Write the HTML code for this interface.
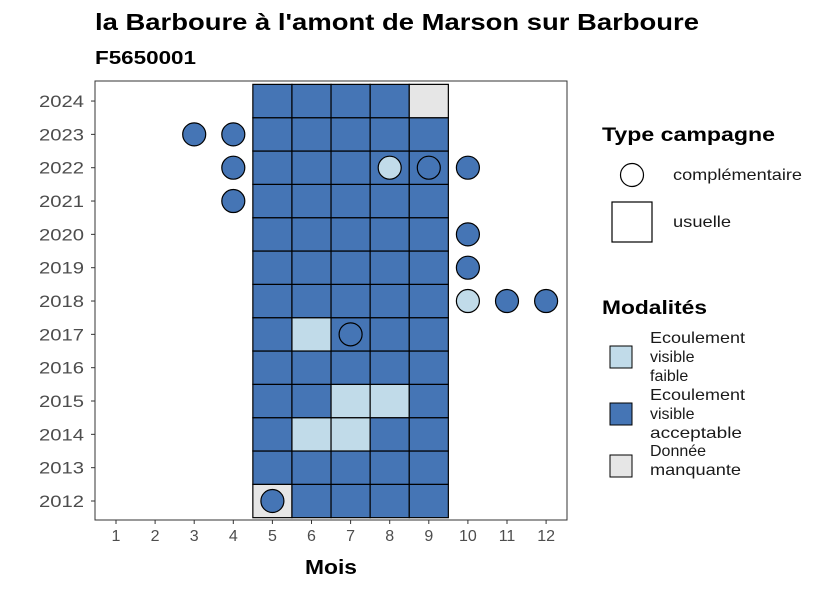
<!DOCTYPE html>
<html><head><meta charset="utf-8"><style>
body{margin:0;background:#fff;font-family:"Liberation Sans",sans-serif}
</style></head><body>
<svg id="chart" width="826" height="590" xmlns="http://www.w3.org/2000/svg" font-family="Liberation Sans, sans-serif">
<text x="95" y="30" font-size="23" font-weight="bold" fill="#000" textLength="604" lengthAdjust="spacingAndGlyphs">la Barboure à l'amont de Marson sur Barboure</text>
<text x="95" y="64" font-size="18" font-weight="bold" fill="#000" textLength="101" lengthAdjust="spacingAndGlyphs">F5650001</text>
<g id="plot"></g>
<g id="axes"></g>
<text x="305" y="574" font-size="20" font-weight="bold" textLength="52" lengthAdjust="spacingAndGlyphs">Mois</text>
<g>
<text x="602" y="141" font-size="19" font-weight="bold" textLength="173" lengthAdjust="spacingAndGlyphs">Type campagne</text>
<circle cx="632" cy="175" r="11.5" fill="#fff" stroke="#000" stroke-width="1.2"/>
<text x="673" y="180" font-size="16" fill="#1a1a1a" textLength="129" lengthAdjust="spacingAndGlyphs">complémentaire</text>
<rect x="612" y="202" width="40" height="40" fill="#fff" stroke="#000" stroke-width="1.2"/>
<text x="673" y="227" font-size="16" fill="#1a1a1a" textLength="58" lengthAdjust="spacingAndGlyphs">usuelle</text>
</g>
<g font-size="16" fill="#1a1a1a">
<text x="602" y="314" font-size="19" font-weight="bold" fill="#000" textLength="105" lengthAdjust="spacingAndGlyphs">Modalités</text>
<rect x="610" y="346" width="22" height="22" fill="#c1dbe9" stroke="#000"/>
<text x="650" y="343" textLength="95" lengthAdjust="spacingAndGlyphs">Ecoulement</text><text x="650" y="362">visible</text><text x="650" y="381">faible</text>
<rect x="610" y="403" width="22" height="22" fill="#4575b5" stroke="#000"/>
<text x="650" y="400" textLength="95" lengthAdjust="spacingAndGlyphs">Ecoulement</text><text x="650" y="419">visible</text><text x="650" y="438" textLength="92" lengthAdjust="spacingAndGlyphs">acceptable</text>
<rect x="610" y="455" width="22" height="22" fill="#e6e6e6" stroke="#000"/>
<text x="650" y="456">Donnée</text><text x="650" y="475" textLength="91" lengthAdjust="spacingAndGlyphs">manquante</text>
</g>
</svg>
<script>
const months=[1,2,3,4,5,6,7,8,9,10,11,12];
const years=[2012,2013,2014,2015,2016,2017,2018,2019,2020,2021,2022,2023,2024];
const tileMonths=[5,6,7,8,9];
const tileGrid={
2024:[1,1,1,1,2],2023:[1,1,1,1,1],2022:[1,1,1,1,1],2021:[1,1,1,1,1],2020:[1,1,1,1,1],
2019:[1,1,1,1,1],2018:[1,1,1,1,1],2017:[1,0,1,1,1],2016:[1,1,1,1,1],2015:[1,1,0,0,1],
2014:[1,0,0,1,1],2013:[1,1,1,1,1],2012:[2,1,1,1,1]};
const ptMonths=[3,4,4,8,9,10,4,10,10,10,11,12,7,5];
const ptYears=[2023,2023,2022,2022,2022,2022,2021,2020,2019,2018,2018,2018,2017,2012];
const ptMods=[1,1,1,0,1,1,1,1,1,0,1,1,1,1];
const colors=['#c1dbe9','#4575b5','#e6e6e6'];
const X0=95,X1=567,Y0=81,Y1=520;
const xs=m=>116+(m-1)*39.1;
const ys=y=>501-(y-2012)*33.33;
const ns='http://www.w3.org/2000/svg';
function mk(t,a,p){const e=document.createElementNS(ns,t);for(const k in a)e.setAttribute(k,a[k]);p.appendChild(e);return e;}
const plot=document.getElementById('plot'),axes=document.getElementById('axes');
const bg=mk('rect',{x:X0,y:Y0,width:X1-X0,height:Y1-Y0,fill:'#fff',stroke:'#333','stroke-width':1},plot);


for(const y of years){tileMonths.forEach((m,i)=>{const v=tileGrid[y][i];
const r=mk('rect',{x:xs(m)-19.55,y:ys(y)-16.67,width:39.1,height:33.33,fill:colors[v],stroke:'#000','stroke-width':1.2},plot);

});}
ptMonths.forEach((m,i)=>{const c=mk('circle',{cx:xs(m),cy:ys(ptYears[i]),r:11.5,fill:colors[ptMods[i]],stroke:'#000','stroke-width':1.2},plot);

});
mk('rect',{x:X0,y:Y0,width:X1-X0,height:Y1-Y0,fill:'none',stroke:'#333','stroke-width':1},plot);
for(const m of months){mk('line',{x1:xs(m),x2:xs(m),y1:Y1,y2:Y1+4,stroke:'#333'},axes);
const t=mk('text',{x:xs(m),y:Y1+21,'font-size':16,fill:'#4d4d4d','text-anchor':'middle'},axes);t.textContent=m;

}
for(const y of years){mk('line',{x1:X0-4,x2:X0,y1:ys(y),y2:ys(y),stroke:'#333'},axes);
const t=mk('text',{x:X0-11,y:ys(y)+6,'font-size':17,fill:'#4d4d4d','text-anchor':'end',textLength:45,lengthAdjust:'spacingAndGlyphs'},axes);t.textContent=y;

}
</script>
</body></html>
